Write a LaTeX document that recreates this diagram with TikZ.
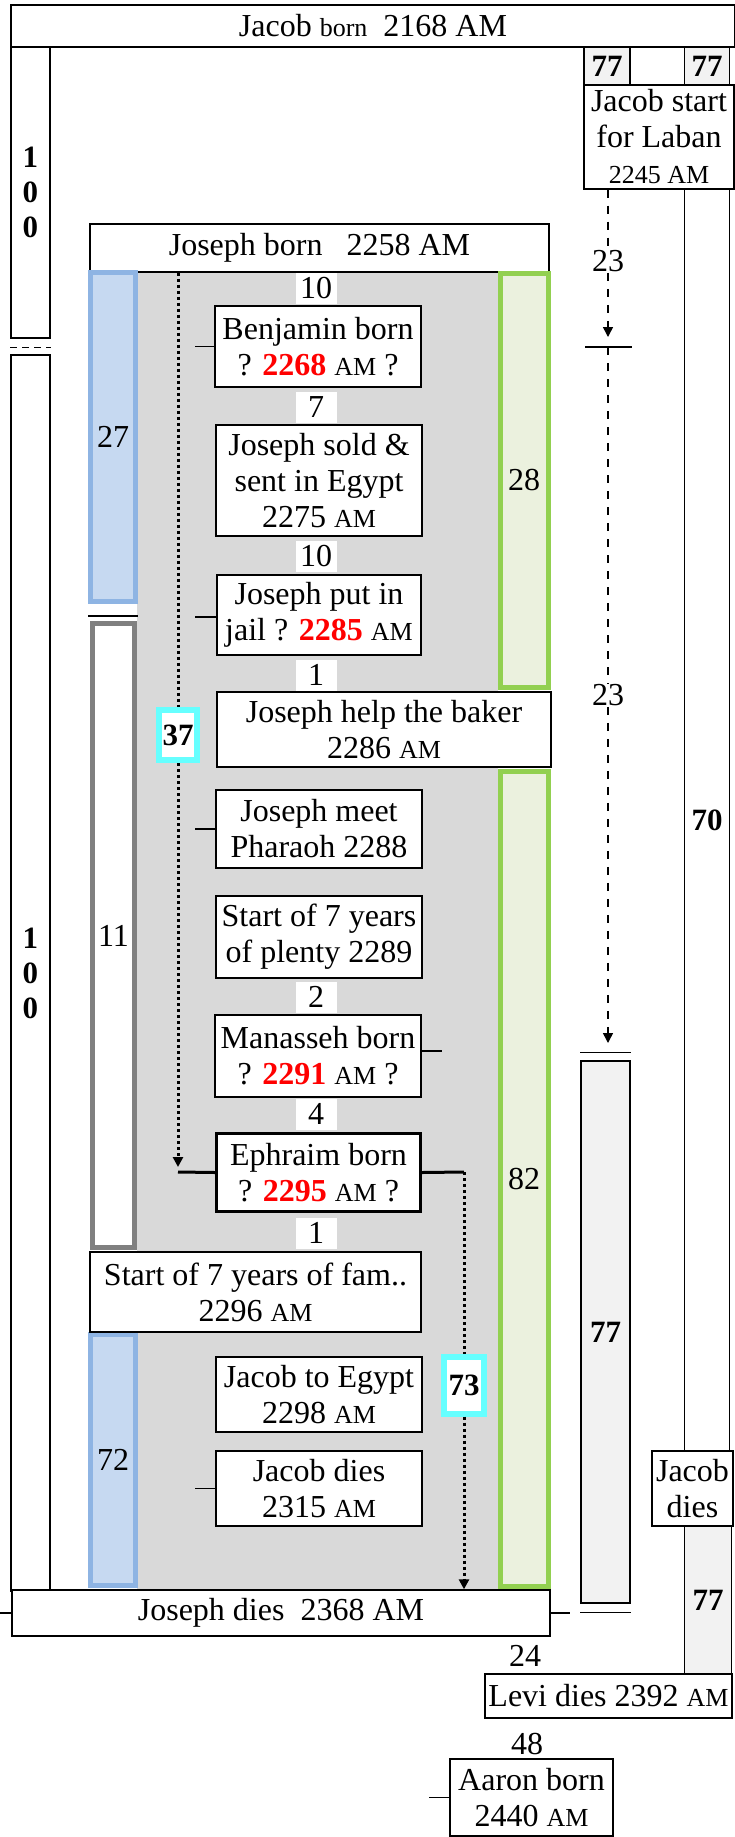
\documentclass[tikz,border=0pt]{standalone}
\usepackage{fontspec}
\setmainfont{Liberation Serif}
\usetikzlibrary{arrows.meta}
\definecolor{greybg}{HTML}{D9D9D9}
\definecolor{bluefill}{HTML}{C6D9F1}
\definecolor{blueedge}{HTML}{8EB4E3}
\definecolor{greenfill}{HTML}{EBF1DE}
\definecolor{greenedge}{HTML}{92D050}
\definecolor{greyedge}{HTML}{808080}
\definecolor{lightgrey}{HTML}{F2F2F2}
\definecolor{cyanedge}{HTML}{66FFFF}
\definecolor{yearred}{HTML}{FF0000}
\newcommand{\smAM}{{\fontsize{26}{30}\selectfont AM}}
\newcommand{\yr}[1]{\textcolor{yearred}{\textbf{#1}}}

\begin{document}
\begin{tikzpicture}[
        x=1pt, y=-1pt,
        evt/.style={rectangle, draw, fill=white, line width=1.4pt, align=center, inner sep=0pt, minimum width=206pt, font=\fontsize{32}{36}\selectfont},
        agebar/.style={rectangle, draw, fill=white, line width=1.4pt, align=center, inner sep=0pt, font=\fontsize{31}{35}\selectfont\bfseries},
        greybox/.style={agebar, fill=lightgrey},
        bluebar/.style={rectangle, draw=blueedge, fill=bluefill, line width=5pt, inner sep=0pt, font=\fontsize{32}{36}\selectfont},
        greenbar/.style={bluebar, draw=greenedge, fill=greenfill},
        greybar/.style={bluebar, draw=greyedge, fill=white},
        cyanbox/.style={rectangle, draw=cyanedge, fill=white, line width=6pt, inner sep=0pt, font=\fontsize{31}{34}\selectfont\bfseries},
        gap/.style={fill=white, inner sep=0pt, minimum width=41pt, minimum height=31pt, font=\fontsize{32}{36}\selectfont},
        plain/.style={fill=white, inner sep=1pt, font=\fontsize{32}{36}\selectfont},
        tickln/.style={line width=1.4pt},
        dashln/.style={line width=1.5pt, dash pattern=on 8pt off 8pt},
        dotln/.style={line width=3pt, dash pattern=on 3pt off 3pt},
        thickln/.style={line width=3pt},
        tip/.style={-{Triangle[length=10pt, width=10pt]}}
    ]
        \useasboundingbox (0,0) rectangle (735,1837);
        \fill[greybg] (137,272) rectangle (498,1590);

        \node[evt, minimum width=724pt, minimum height=42pt] (jacobborn) at (373,26) {Jacob {\fontsize{26}{30}\selectfont born}\ \ 2168 AM};
        \node[agebar, minimum width=39pt, minimum height=291pt] (life100a) at (30.5,192.5) {1\\0\\0};
        \node[agebar, minimum width=39pt, minimum height=1236pt] (life100b) at (30.5,973) {1\\0\\0};
        \draw[line width=1.4pt, dash pattern=on 7pt off 5pt] ([yshift=-9pt]life100a.south west) -- ([yshift=-9pt]life100a.south east);

        \node[evt, minimum width=459pt, minimum height=48pt] (josephborn) at (319.5,248) {Joseph born\ \ \ 2258 AM};

        \node[bluebar, minimum width=45pt, minimum height=329pt] (span27) at (113,437) {27};
        \node[greybar, minimum width=42pt, minimum height=624pt] (span11) at (113.5,935.5) {11};
        \node[bluebar, minimum width=45pt, minimum height=251pt] (span72) at (113,1460) {72};
        \node[greenbar, minimum width=48pt, minimum height=414pt] (span28) at (524,480) {28};
        \node[greenbar, minimum width=48pt, minimum height=815pt] (span82) at (524,1178.5) {82};
        \draw[tickln] ([yshift=-12pt]span27.south west) -- ([yshift=-12pt]span27.south east);

        \node[evt, minimum height=81pt] (benjamin) at (318,346.5) {Benjamin born\\? \yr{2268} \smAM\ ?};
        \node[evt, minimum height=111pt] (sold) at (319,480.5) {Joseph sold \&\\sent in Egypt\\2275 \smAM};
        \node[evt, minimum width=204pt, minimum height=80pt] (jail) at (319,615) {Joseph put in\\jail ? \yr{2285} \smAM};
        \node[evt, minimum width=334pt, minimum height=75pt] (baker) at (384,729.5) {Joseph help the baker\\2286 \smAM};
        \node[evt, minimum height=78pt] (pharaoh) at (319,829) {Joseph meet\\Pharaoh 2288};
        \node[evt, minimum height=82pt] (plenty) at (319,937) {Start of 7 years\\of plenty 2289};
        \node[evt, minimum height=82pt] (manasseh) at (318,1056) {Manasseh born\\? \yr{2291} \smAM\ ?};
        \node[evt, line width=3pt, minimum width=204pt, minimum height=78pt] (ephraim) at (318.5,1172.5) {Ephraim born\\? \yr{2295} \smAM\ ?};
        \node[evt, minimum width=331pt, minimum height=80pt] (famine) at (255.5,1292) {Start of 7 years of fam..\\2296 \smAM};
        \node[evt, minimum height=75pt] (toegypt) at (319,1394.5) {Jacob to Egypt\\2298 \smAM};
        \node[evt, minimum height=75pt] (jacobdies) at (319,1488.5) {Jacob dies\\2315 \smAM};
        \node[evt, minimum width=538pt, minimum height=46pt] (josephdies) at (281,1613) {Joseph dies\ \ 2368 AM};
        \node[evt, minimum width=247pt, minimum height=44pt] (levi) at (608.5,1696) {Levi dies 2392 \smAM};
        \node[evt, minimum width=163pt, minimum height=77pt] (aaron) at (531.5,1797.5) {Aaron born\\2440 \smAM};

        \node[greybox, minimum width=46pt, minimum height=38pt] (top77a) at (607,66) {77};
        \node[greybox, minimum width=45pt, minimum height=38pt] (top77b) at (707,66) {77};
        \node[evt, minimum width=150pt, minimum height=104pt] (laban) at (659,137) {Jacob start\\for Laban\\{\fontsize{26}{30}\selectfont 2245 AM}};
        \node[agebar, minimum width=45pt, minimum height=1262pt] (span70) at (707,820) {70};
        \node[evt, minimum width=81pt, minimum height=75pt] (jacobdiesR) at (692.5,1488.5) {Jacob\\dies};
        \node[greybox, minimum width=47pt, minimum height=148pt] (span77R) at (708,1600) {77};
        \node[greybox, minimum width=49pt, minimum height=542pt] (span77M) at (605.5,1332) {77};

        \node[gap] (d1) at (316,288) {10};
        \node[gap] (d2) at (316,407.5) {7};
        \node[gap] (d3) at (316,556) {10};
        \node[gap] (d4) at (316,675) {1};
        \node[gap] (d5) at (316,997) {2};
        \node[gap] (d6) at (316,1114) {4};
        \node[gap] (d7) at (316,1233) {1};
        \node[plain] (c24) at (525,1656) {24};
        \node[plain] (c48) at (527,1744) {48};

        \draw[tickln] (benjamin.west) -- ++(-19,0);
        \draw[tickln] ([yshift=-2pt]jail.west) -- ++(-21,0);
        \draw[tickln] (pharaoh.west) -- ++(-20,0);
        \draw[tickln] ([yshift=5pt]manasseh.east) -- ++(20,0);
        \draw[tickln] (jacobdies.west) -- ++(-20,0);
        \draw[tickln] (josephdies.west) -- ++(-12,0);
        \draw[tickln] (josephdies.east) -- ++(19,0);
        \draw[tickln] (aaron.west) -- ++(-20,0);
        \draw[tickln] ([yshift=-9pt]span77M.south west) -- ([yshift=-9pt]span77M.south east);
        \draw[tickln] ([yshift=8pt]span77M.north west) -- ([yshift=8pt]span77M.north east);

        \node[plain] (c23a) at (608,261) {23};
        \node[plain] (c23b) at (608,695) {23};
        \coordinate (mark23a) at (608,347);
        \coordinate (mark23b) at (608,1053);
        \draw[tickln] ([xshift=-23pt]mark23a) -- ([xshift=24pt]mark23a);
        \draw[dashln] (c23a |- laban.south) -- (c23a);
        \draw[dashln, tip] (c23a) -- ([yshift=10pt]mark23a);
        \draw[dashln] (mark23a) -- (c23b);
        \draw[dashln, tip] (c23b) -- ([yshift=10pt]mark23b);

        \node[cyanbox, minimum width=38pt, minimum height=50pt] (n37) at (178,735) {37};
        \coordinate (ephin) at (178,1172);
        \draw[dotln] (n37 |- josephborn.south) -- (n37);
        \draw[dotln, tip] (n37) -- ([yshift=5pt]ephin);
        \draw[thickln] (ephin) -- (ephraim.west);

        \node[cyanbox, minimum width=40pt, minimum height=57pt] (n73) at (464,1385) {73};
        \coordinate (ephout) at (464,1172);
        \draw[thickln] (ephraim.east) -- (ephout);
        \draw[dotln] (ephout) -- (n73);
        \draw[dotln, tip] (n73) -- (ephout |- josephdies.north);
    \end{tikzpicture}
\end{document}
